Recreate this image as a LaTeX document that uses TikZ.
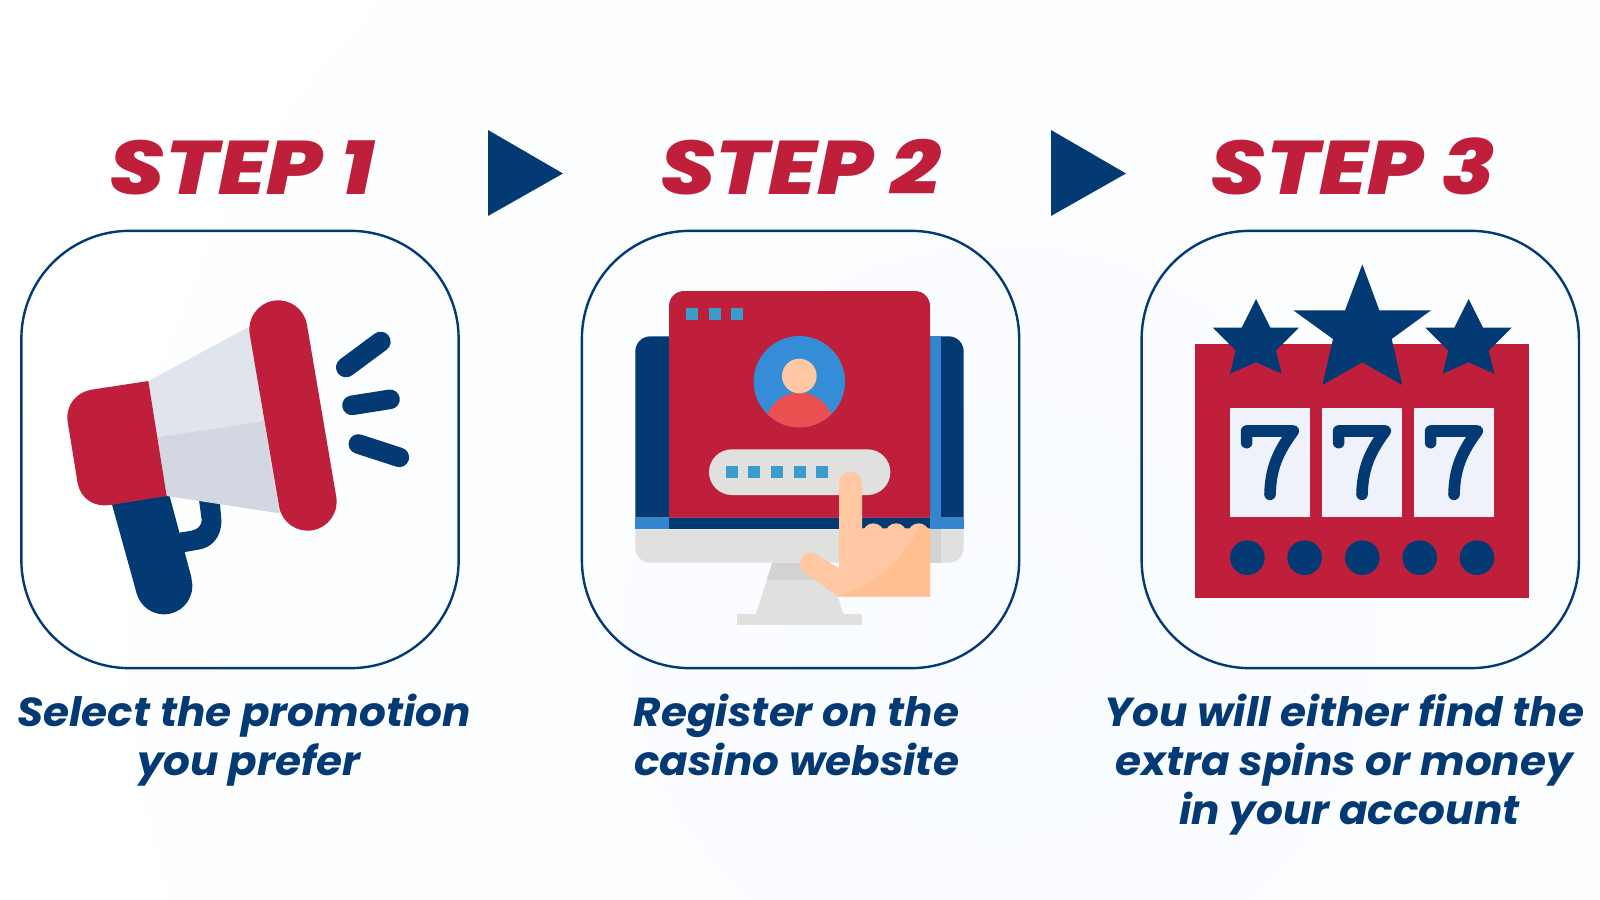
\documentclass[tikz,border=0pt]{standalone}
\usepackage{fontspec}
\setmainfont{Poppins}
\newfontfamily\headfont[FakeStretch=1.16, ItalicFont={Poppins ExtraBold Italic}]{Poppins ExtraBold}
\newfontfamily\capfont[FakeStretch=1.04]{Poppins}
\usetikzlibrary{positioning}
\definecolor{navy}{HTML}{033A73}
\definecolor{casinored}{HTML}{C01F3C}
\definecolor{sqblue}{HTML}{3A9CCB}
\definecolor{midblue}{HTML}{3385CE}
\definecolor{avblue}{HTML}{358DD8}
\definecolor{skin}{HTML}{FFC8A2}
\definecolor{skindark}{HTML}{FFBF90}
\definecolor{body}{HTML}{E9504F}
\definecolor{screengrey}{HTML}{E0E0DE}
\definecolor{standgrey}{HTML}{D3D3D1}
\definecolor{hornlight}{HTML}{E0E4EC}
\definecolor{horndark}{HTML}{D2D7E2}
\definecolor{reelpanel}{HTML}{F0F2FB}
\definecolor{pagetint}{HTML}{F8FBFF}
\begin{document}
\begin{tikzpicture}[x=0.025cm, y=-0.025cm,
    stepbox/.style={draw=navy, line width=0.06cm, rounded corners=2.7cm, minimum width=10.93cm, minimum height=10.93cm, inner sep=0pt},
    steptitle/.style={text=casinored, font=\fontsize{54}{60}\headfont\itshape, inner sep=0pt},
    stepcaption/.style={text=navy, font=\fontsize{28.8}{34.7}\capfont\bfseries\itshape, align=center, inner sep=0pt},
    icon/.style={shift={#1}, x=0.008333cm, y=-0.008333cm},
    pill/.style={line width=#1, line cap=round, draw=navy},
    sqmark/.style={fill=sqblue},
    % Pic for one reel of the slot machine
    pics/reel/.style={code={
        \fill[reelpanel] (0,0) rectangle (241,326);
        \draw[navy, line width=0.29cm, line cap=round, line join=round] (50,103) -- (50,68) -- (190,68) .. controls (140,135) and (122,185) .. (120,258);
    }}]

% Background and page size
\begin{scope}
  \clip (0,0) rectangle (1600,900);
  \shade[inner color=pagetint, outer color=white] (1000,620) circle (1000);
\end{scope}
\useasboundingbox (0,0) rectangle (1600,900);

% Step boxes
\node[stepbox] (box1) at (240,449.5) {};
\node[stepbox, right=3.02cm of box1] (box2) {};
\node[stepbox, right=3cm of box2] (box3) {};

% Headings and captions
\node[steptitle, above=0.85cm of box1, xshift=0.05cm] (title1) {STEP 1};
\node[steptitle, above=0.85cm of box2] (title2) {STEP 2};
\node[steptitle, above=0.85cm of box3, xshift=-0.18cm] (title3) {STEP 3};
\node[stepcaption, below=0.62cm of box1, xshift=0.1cm] (cap1) {Select the promotion\\\hspace*{0.25cm}you prefer};
\node[stepcaption, below=0.62cm of box2, xshift=-0.1cm] (cap2) {Register on the\\casino website};
\node[stepcaption, below=0.62cm of box3, xshift=-0.4cm] (cap3) {You will either find the\\extra spins or money\\\hspace*{0.25cm}in your account};

% Arrows between steps
\fill[navy] (488,130) -- (563,173.5) -- (488,216) -- cycle;
\fill[navy] (1051,130) -- (1126,173.5) -- (1051,216) -- cycle;

% Megaphone
\begin{scope}[icon={(10,220)}]
  \fill[navy] (567,840) -- (630,850) -- (634,900) .. controls (636,950) and (605,982) .. (570,988) -- (520,997) -- (508,938) -- (545,932) .. controls (565,928) and (575,915) .. (575,900) -- cycle;
  \fill[navy] (305,850) -- (380,1120) -- (545,1075) -- (478,825) -- cycle;
  \fill[navy] (462,1098) circle (85);
  \fill[hornlight] (415,483) -- (718,320) -- (762,602) -- (442,652) -- cycle;
  \fill[horndark] (442,652) -- (762,602) -- (808,880) -- (470,828) -- cycle;
  \fill[casinored] (415,483) -- (245,509) .. controls (200,516) and (166,555) .. (173,605) -- (203,790) .. controls (212,835) and (250,862) .. (300,855) -- (470,828) -- cycle;
  \draw[pill=1.45cm, draw=casinored] (805,328) -- (893,845);
  \draw[pill=0.5cm] (1008,442) -- (1112,365);
  \draw[pill=0.49cm] (1026,556) -- (1140,538);
  \draw[pill=0.49cm] (1045,672) -- (1168,712);
\end{scope}

% Monitor with login window
\begin{scope}[icon={(570,220)}]
  \fill[screengrey] (607,1028) -- (558,1182) -- (820,1182) -- (770,1028) -- cycle;
  \fill[standgrey] (607,1028) -- (590,1080) -- (787,1080) -- (770,1028) -- cycle;
  \fill[screengrey] (501,1182) rectangle (876,1215);
  \fill[navy] (196,893) [rounded corners=0.375cm] -- (196,349) -- (1181,349) [sharp corners] -- (1181,893) -- cycle;
  \fill[midblue] (196,893) rectangle (297,928);
  \fill[midblue] (1080,893) rectangle (1181,928);
  \fill[midblue] (1080,349) rectangle (1113,893);
  \fill[navy] (297,893) rectangle (1080,928);
  \fill[screengrey] (196,928) [rounded corners=0.375cm] -- (196,1028) -- (1181,1028) [sharp corners] -- (1181,928) -- cycle;
  \fill[standgrey] (1080,928) rectangle (1113,1028);
  \fill[casinored] (297,893) [rounded corners=0.375cm] -- (297,213) -- (1080,213) [sharp corners] -- (1080,893) -- cycle;
  \foreach \sx in {348,416,484} \fill[sqmark] (\sx,264) rectangle +(36,36);
  \fill[avblue] (688,485) circle (137);
  \begin{scope}
    \clip (688,485) circle (137);
    \fill[body] (688,620) circle (102);
  \end{scope}
  \fill[skin] (688,468) circle (52);
  \fill[screengrey, rounded corners=0.57cm] (417,688) rectangle (961,825);
  \foreach \sx in {467,535,603,671,739} \fill[sqmark] (\sx,739) rectangle +(36,36);
  % Hand
  \fill[skin] (841,789) circle (34);
  \fill[skin] (807,789) -- (876,789) -- (876,925) -- (1080,925) -- (1080,1130) -- (805,1130) -- (698,1055) -- (735,1002) -- (807,1045) -- cycle;
  \fill[skin] (722,1030) circle (32);
  \foreach \kx in {910,978,1046} \fill[skin] (\kx,942) circle (32);
  \fill[skindark] (805,1128) .. controls (930,1090) and (1010,1000) .. (1052,915) .. controls (1065,915) and (1080,925) .. (1080,940) -- (1080,1130) -- (805,1130) -- cycle;
\end{scope}

% Slot machine
\begin{scope}[icon={(1130,220)}]
  \fill[casinored] (196,373) rectangle (1197,1133);
  \fill[navy] (697,133) -- (748,271) -- (903,271) -- (785,357) -- (817,495) -- (697,427) -- (577,495) -- (609,357) -- (490,271) -- (645,271) -- cycle;
  \foreach \dx in {0,638}
    \fill[navy, xshift=\dx*0.008333cm] (378,237) -- (421,323) -- (507,323) -- (438,392) -- (455,461) -- (378,427) -- (300,461) -- (317,392) -- (248,323) -- (335,323) -- cycle;
  \pic at (300,565) {reel};
  \pic at (576,565) {reel};
  \pic at (852,565) {reel};
  \foreach \dotx in {352,524,697,869,1041} \fill[navy] (\dotx,1013) circle (52);
\end{scope}

\end{tikzpicture}
\end{document}
